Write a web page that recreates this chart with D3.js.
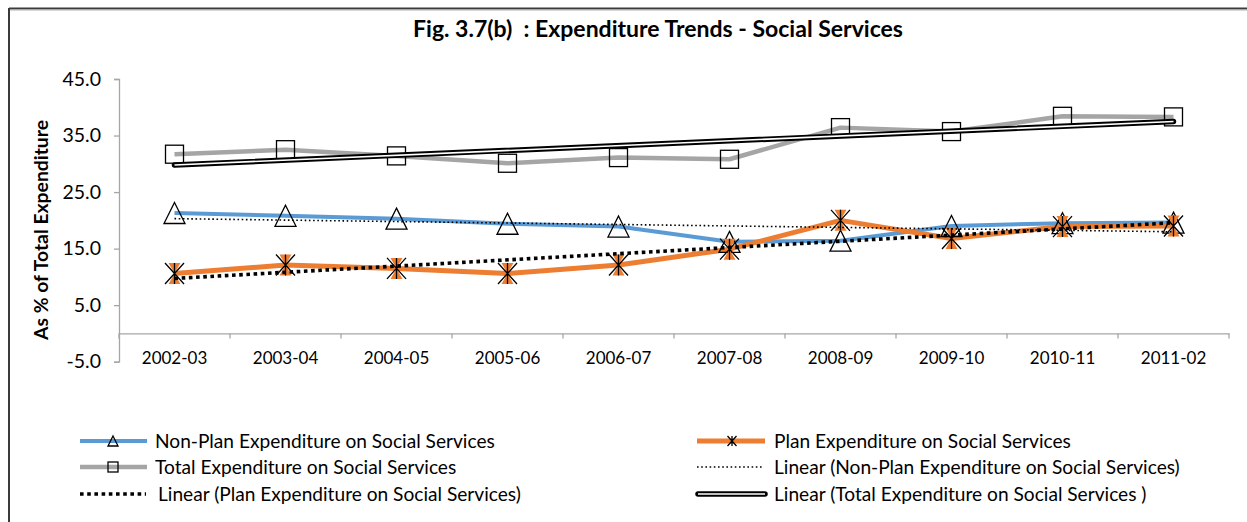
<!DOCTYPE html>
<html>
<head>
<meta charset="utf-8">
<script src="https://cdn.jsdelivr.net/npm/d3@7"></script>
<style>
  html, body { margin: 0; padding: 0; background: #fff; }
  svg { display: block; font-family: Lato, "Open Sans", sans-serif; }
</style>
</head>
<body>
<svg id="chart" width="1247" height="522"></svg>
<script>
// ---------- data ----------
const categories = ["2002-03","2003-04","2004-05","2005-06","2006-07","2007-08","2008-09","2009-10","2010-11","2011-02"];
const nonPlan = [21.3, 20.8, 20.3, 19.4, 18.9, 16.2, 16.4, 19.0, 19.5, 19.6];
const plan    = [10.6, 12.1, 11.5, 10.6, 12.1, 14.9, 20.0, 16.8, 18.9, 19.0];
const total   = [31.7, 32.5, 31.4, 30.1, 31.1, 30.8, 36.4, 35.7, 38.4, 38.3];
const yTicks  = [-5, 5, 15, 25, 35, 45];
const titleText = "Fig. 3.7(b)\u00A0\u00A0: Expenditure Trends - Social Services";
const yTitle = "As % of Total Expenditure";
const legendLabels = {
  nonPlan: "Non-Plan Expenditure on Social Services",
  plan: "Plan Expenditure on Social Services",
  total: "Total Expenditure on Social Services",
  linNonPlan: "Linear (Non-Plan Expenditure on Social Services)",
  linPlan: "Linear (Plan Expenditure on Social Services)",
  linTotal: "Linear (Total Expenditure on Social Services )"
};

// ---------- layout ----------
const svg = d3.select("#chart");
const plotLeft = 119, plotRight = 1229, plotTop = 79, plotBottom = 361.7;
const x = d3.scaleBand().domain(categories).range([plotLeft, plotRight]).padding(0);
const y = d3.scaleLinear().domain([-5, 45]).range([plotBottom, plotTop]);
const cx = c => x(c) + x.bandwidth() / 2;

const colors = { nonPlan: "#5B9BD5", plan: "#ED7D31", total: "#A5A5A5", axis: "#A6A6A6" };

// border
svg.append("line").attr("x1", 9).attr("x2", 1247).attr("y1", 8.5).attr("y2", 8.5)
  .attr("stroke", "#3a3a3a").attr("stroke-width", 2);
svg.append("line").attr("x1", 9).attr("x2", 1247).attr("y1", 10).attr("y2", 10)
  .attr("stroke", "#b0b0b0").attr("stroke-width", 1);
svg.append("line").attr("x1", 9).attr("x2", 9).attr("y1", 8).attr("y2", 522)
  .attr("stroke", "#3a3a3a").attr("stroke-width", 2);

function fit(sel, target) {
  const w = sel.node().getComputedTextLength();
  const fs = parseFloat(sel.attr("font-size"));
  sel.attr("font-size", (fs * target / w).toFixed(2));
}

// title
const t = svg.append("text").attr("x", 658).attr("y", 37).attr("text-anchor", "middle")
  .attr("font-weight", "bold").attr("font-size", 17).attr("fill", "#000").text(titleText);
fit(t, 490);

// y axis
const yAxis = d3.axisLeft(y).tickValues(yTicks).tickSize(5)
  .tickFormat(d => d3.format(".1f")(d).replace("\u2212", "-"));
const gy = svg.append("g").attr("transform", `translate(${plotLeft},0)`).call(yAxis);
gy.select(".domain").attr("stroke", colors.axis).attr("stroke-width", 1.3);
gy.selectAll(".tick line").attr("stroke", colors.axis).attr("stroke-width", 1.3);
gy.selectAll(".tick text").attr("font-size", 19.5).attr("fill", "#000").attr("x", -18)
  .attr("font-family", "Lato, sans-serif");

// x axis at zero
const xAxis = d3.axisBottom(x).tickSize(0).tickFormat(d => d);
const gx = svg.append("g").attr("transform", `translate(0,${y(0)})`).call(xAxis);
gx.select(".domain").attr("stroke", colors.axis).attr("stroke-width", 1.3);
gx.selectAll(".tick text").attr("font-size", 17).attr("fill", "#000")
  .attr("font-family", "Lato, sans-serif")
  .attr("y", y(-5) - y(0) - 4).attr("dy", "0.35em");
// boundary ticks
const bounds = categories.map(c => x(c)).concat([plotRight]);
svg.append("g").selectAll("line").data(bounds).join("line")
  .attr("x1", d => d).attr("x2", d => d).attr("y1", y(0)).attr("y2", y(0) + 5)
  .attr("stroke", colors.axis).attr("stroke-width", 1.3);

// y axis title
const yt = svg.append("text").attr("transform", "translate(48,230) rotate(-90)")
  .attr("text-anchor", "middle").attr("font-weight", "bold").attr("font-size", 17).text(yTitle);
fit(yt, 220);

// ---------- series ----------
const line = d3.line().x((d, i) => cx(categories[i])).y(d => y(d));
function addSeries(vals, color, w) {
  svg.append("path").datum(vals).attr("d", line).attr("fill", "none")
    .attr("stroke", color).attr("stroke-width", w).attr("stroke-linejoin", "round");
}
addSeries(total, colors.total, 4.5);
addSeries(nonPlan, colors.nonPlan, 4);
addSeries(plan, colors.plan, 5);

// markers
function triPath(s) { const h = s; return `M0,${-h/2}L${s/2},${h/2}L${-s/2},${h/2}Z`; }
function drawTri(g, px, py, s) {
  g.append("path").attr("d", triPath(s)).attr("transform", `translate(${px},${py})`)
    .attr("fill", "none").attr("stroke", "#000").attr("stroke-width", 1.3);
}
function drawSq(g, px, py, s) {
  g.append("rect").attr("x", px - s/2).attr("y", py - s/2).attr("width", s).attr("height", s)
    .attr("fill", "none").attr("stroke", "#000").attr("stroke-width", 1.3);
}
function drawStar(g, px, py, w, h, bw) {
  const gg = g.append("g").attr("transform", `translate(${px},${py})`);
  gg.append("path").attr("d", `M${-bw/2},${-h/2}L${bw/2},${-h/2}L0,0L${bw/2},${h/2}L${-bw/2},${h/2}L0,0Z`)
    .attr("fill", colors.plan);
  gg.append("path").attr("d", `M${-w/2},${-h/2}L${w/2},${h/2}M${w/2},${-h/2}L${-w/2},${h/2}M0,${-h/2}L0,${h/2}`)
    .attr("stroke", "#000").attr("stroke-width", 1.3).attr("fill", "none");
}
const mg = svg.append("g");
total.forEach((v, i) => drawSq(mg, cx(categories[i]), y(v), 18));
nonPlan.forEach((v, i) => drawTri(mg, cx(categories[i]), y(v), 21));
plan.forEach((v, i) => drawStar(mg, cx(categories[i]), y(v), 19, 21, 12));

// ---------- linear trendlines (least squares on the series) ----------
function trend(vals) {
  const n = vals.length, xs = vals.map((_, i) => i + 1);
  const mx = d3.mean(xs), my = d3.mean(vals);
  const b = d3.sum(xs.map((xi, i) => (xi - mx) * (vals[i] - my))) / d3.sum(xs.map(xi => (xi - mx) ** 2));
  const a = my - b * mx;
  return [a + b * 1, a + b * n];
}
function trendEnds(vals) {
  const [y0, y1] = trend(vals);
  return { x1: cx(categories[0]), y1: y(y0), x2: cx(categories[categories.length - 1]), y2: y(y1) };
}
const tnp = trendEnds(nonPlan), tp = trendEnds(plan), tt = trendEnds(total);
svg.append("line").attr("x1", tnp.x1).attr("y1", tnp.y1).attr("x2", tnp.x2).attr("y2", tnp.y2)
  .attr("stroke", "#000").attr("stroke-width", 1.6).attr("stroke-dasharray", "1.6,2.6");
svg.append("line").attr("x1", tp.x1).attr("y1", tp.y1).attr("x2", tp.x2).attr("y2", tp.y2)
  .attr("stroke", "#000").attr("stroke-width", 3.6).attr("stroke-dasharray", "3.6,3.6");
svg.append("line").attr("x1", tt.x1).attr("y1", tt.y1).attr("x2", tt.x2).attr("y2", tt.y2)
  .attr("stroke", "#000").attr("stroke-width", 5.5).attr("stroke-linecap", "round");
svg.append("line").attr("x1", tt.x1).attr("y1", tt.y1).attr("x2", tt.x2).attr("y2", tt.y2)
  .attr("stroke", "#fff").attr("stroke-width", 1.6);

// ---------- legend ----------
const lg = svg.append("g");
const rows = [441, 467, 494];
const legFont = 16.5;
function legText(px, py, txt) {
  return lg.append("text").attr("x", px).attr("y", py).attr("dy", "0.35em")
    .attr("font-size", legFont).attr("fill", "#000").text(txt);
}
// left column
lg.append("line").attr("x1", 80).attr("x2", 147).attr("y1", rows[0]).attr("y2", rows[0])
  .attr("stroke", colors.nonPlan).attr("stroke-width", 4);
drawTri(lg, 113, rows[0], 10);
const l1 = legText(155, rows[0], legendLabels.nonPlan);
fit(l1, 340);
const fsLeg = l1.attr("font-size");

lg.append("line").attr("x1", 80).attr("x2", 147).attr("y1", rows[1]).attr("y2", rows[1])
  .attr("stroke", colors.total).attr("stroke-width", 4.5);
drawSq(lg, 113, rows[1], 10);
legText(155, rows[1], legendLabels.total).attr("font-size", fsLeg);

lg.append("line").attr("x1", 80).attr("x2", 146).attr("y1", rows[2]).attr("y2", rows[2])
  .attr("stroke", "#000").attr("stroke-width", 3.6).attr("stroke-dasharray", "3.6,3.6");
legText(158, rows[2], legendLabels.linPlan).attr("font-size", fsLeg);

// right column
lg.append("line").attr("x1", 697).attr("x2", 765).attr("y1", rows[0]).attr("y2", rows[0])
  .attr("stroke", colors.plan).attr("stroke-width", 5);
drawStar(lg, 732, rows[0], 9, 10, 0);
legText(774, rows[0], legendLabels.plan).attr("font-size", fsLeg);

lg.append("line").attr("x1", 697).attr("x2", 764).attr("y1", rows[1]).attr("y2", rows[1])
  .attr("stroke", "#000").attr("stroke-width", 1.6).attr("stroke-dasharray", "1.6,2.6");
legText(774, rows[1], legendLabels.linNonPlan).attr("font-size", fsLeg);

lg.append("line").attr("x1", 698).attr("x2", 765).attr("y1", rows[2]).attr("y2", rows[2])
  .attr("stroke", "#000").attr("stroke-width", 5.5).attr("stroke-linecap", "round");
lg.append("line").attr("x1", 698).attr("x2", 765).attr("y1", rows[2]).attr("y2", rows[2])
  .attr("stroke", "#fff").attr("stroke-width", 1.6);
legText(774, rows[2], legendLabels.linTotal).attr("font-size", fsLeg);
</script>
</body>
</html>
